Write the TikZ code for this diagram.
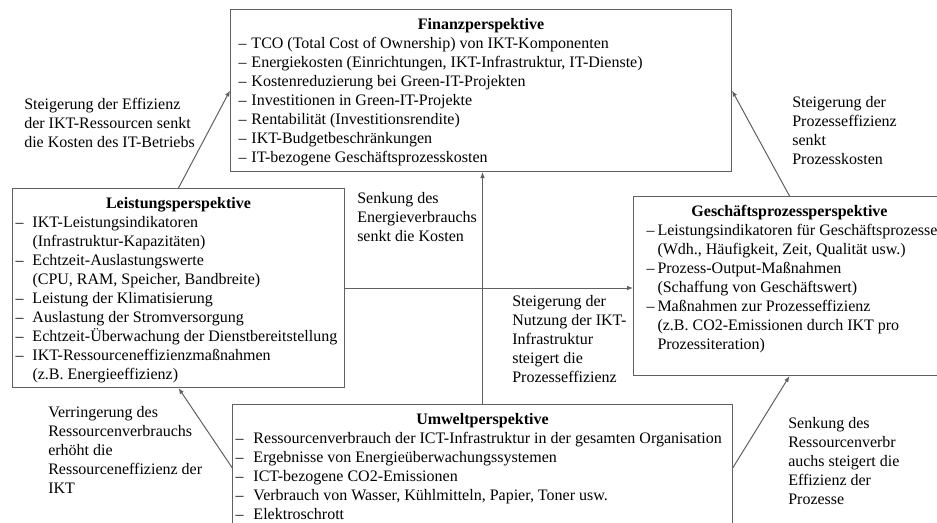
\documentclass[tikz,border=0pt]{standalone}
\usepackage{fontspec}
\setmainfont{Liberation Serif}
\usetikzlibrary{arrows.meta}

\definecolor{linegray}{HTML}{606060}
\newlength\px \setlength\px{0.75pt}
\newlength\itemw
\newcommand{\ditem}{\makebox[\itemw][l]{–}}
\newcommand{\dcont}{\hspace*{\itemw}}
% width, height, left pad, dash width, title, lines (all in px)
\newcommand{\perspbox}[6]{%
  \parbox[c][#2\px][t]{#1\px}{\setlength\itemw{#4\px}\raggedright\leftskip=#3\px
    \hspace*{-#3\px}\makebox[#1\px][c]{\rule{0pt}{20\px}\textbf{#5}}\\
    #6}}

\tikzset{
  persp/.style={draw=linegray, line width=0.75pt, anchor=north west, inner sep=0pt},
  link/.style={draw=linegray, line width=0.75pt, -{Latex[length=4.5pt,width=3.5pt]}},
  note/.style={anchor=west, align=left, inner sep=0pt}
}

\begin{document}
\begin{tikzpicture}[x=0.75pt, y=-0.75pt, every node/.style={font=\fontsize{12}{14.25}\selectfont}]
\clip (0,0) rectangle (937,522);

\node [persp] (fin) at (230,9) {\perspbox{501}{162}{8}{13}{Finanzperspektive}{%
  \ditem TCO (Total Cost of Ownership) von IKT-Komponenten\\
  \ditem Energiekosten (Einrichtungen, IKT-Infrastruktur, IT-Dienste)\\
  \ditem Kostenreduzierung bei Green-IT-Projekten\\
  \ditem Investitionen in Green-IT-Projekte\\
  \ditem Rentabilität (Investitionsrendite)\\
  \ditem IKT-Budgetbeschränkungen\\
  \ditem IT-bezogene Geschäftsprozesskosten}};

\node [persp] (leist) at (12,188) {\perspbox{332}{199}{3}{17}{Leistungsperspektive}{%
  \ditem IKT-Leistungsindikatoren\\
  \dcont (Infrastruktur-Kapazitäten)\\
  \ditem Echtzeit-Auslastungswerte\\
  \dcont (CPU, RAM, Speicher, Bandbreite)\\
  \ditem Leistung der Klimatisierung\\
  \ditem Auslastung der Stromversorgung\\
  \ditem Echtzeit-Überwachung der Dienstbereitstellung\\
  \ditem IKT-Ressourceneffizienzmaßnahmen\\
  \dcont (z.B. Energieeffizienz)}};

\node [persp] (gp) at (633,196) {\perspbox{312}{179}{13}{11}{Geschäftsprozessperspektive}{%
  \ditem Leistungsindikatoren für Geschäftsprozesse\\
  \dcont (Wdh., Häufigkeit, Zeit, Qualität usw.)\\
  \ditem Prozess-Output-Maßnahmen\\
  \dcont (Schaffung von Geschäftswert)\\
  \ditem Maßnahmen zur Prozesseffizienz\\
  \dcont (z.B. CO2-Emissionen durch IKT pro\\
  \dcont Prozessiteration)}};

\node [persp] (umw) at (232,404) {\perspbox{500}{126}{3}{18}{Umweltperspektive}{%
  \ditem Ressourcenverbrauch der ICT-Infrastruktur in der gesamten Organisation\\
  \ditem Ergebnisse von Energieüberwachungssystemen\\
  \ditem ICT-bezogene CO2-Emissionen\\
  \ditem Verbrauch von Wasser, Kühlmitteln, Papier, Toner usw.\\
  \ditem Elektroschrott}};

% connectors
\draw [link] (leist.north) -- (fin.west);
\draw [link] (gp.north) -- (fin.east);
\draw [link] (umw.north) -- (umw.north |- fin.south);
\draw [link] (leist.east) -- (leist.east -| gp.west);
\draw [link] (umw.west) -- (leist.south);
\draw [link] (umw.east) -- (gp.south);

% labels
\node [note] (l1) at (24,123) {Steigerung der Effizienz\\der IKT-Ressourcen senkt\\die Kosten des IT-Betriebs};
\node [note] (l2) at (792,131) {Steigerung der\\Prozesseffizienz\\senkt\\Prozesskosten};
\node [note] (l3) at (357,217) {Senkung des\\Energieverbrauchs\\senkt die Kosten};
\node [note] (l4) at (512,339) {Steigerung der\\Nutzung der IKT-\\Infrastruktur\\steigert die\\Prozesseffizienz};
\node [note] (l5) at (48,450) {Verringerung des\\Ressourcenverbrauchs\\erhöht die\\Ressourceneffizienz der\\IKT};
\node [note] (l6) at (788,461) {Senkung des\\Ressourcenverbr\\auchs steigert die\\Effizienz der\\Prozesse};
\end{tikzpicture}
\end{document}
